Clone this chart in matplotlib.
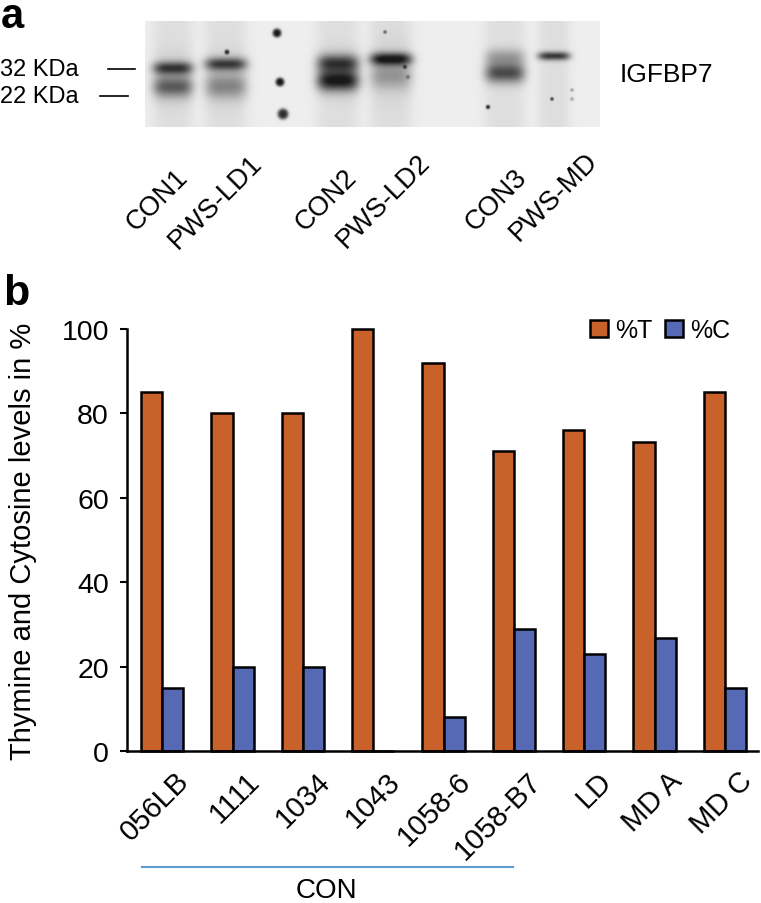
import numpy as np
import matplotlib
matplotlib.use('Agg')
import matplotlib.pyplot as plt
import matplotlib.transforms as mtransforms

plt.rcParams['font.family'] = ['Liberation Sans', 'DejaVu Sans']

# ---- panel b data ----
samples = ['056LB', '1111', '1034', '1043', '1058-6', '1058-B7', 'LD', 'MD A', 'MD C']
pct_T = [85, 80, 80, 100, 92, 71, 76, 73.3, 85]
pct_C = [15, 20, 20, 0, 8, 29, 23, 26.7, 15]

# ---- panel a (western blot) ----
lane_names = ['CON1', 'PWS-LD1', 'CON2', 'PWS-LD2', 'CON3', 'PWS-MD']
lane_x = [173, 226, 338, 391, 505, 554]
lane_halfwidth = [20, 21, 21, 21, 20, 16]
# bands per lane: (y, sigma, darkness)
lane_bands = [
    [(69, 4.5, 0.7), (88, 7, 0.5), (80, 16, 0.15)],
    [(65, 4.5, 0.7), (88, 8, 0.3), (80, 16, 0.15)],
    [(64, 6, 0.65), (82, 7, 0.8), (74, 14, 0.2)],
    [(60, 4.5, 0.9), (77, 9, 0.28), (70, 22, 0.08)],
    [(58, 6, 0.3), (74, 7, 0.7)],
    [(57, 3, 0.8)],
]
# marker / dust spots: (x, y, radius, darkness)
spots = [(277, 34, 4.5, 1.0), (280, 83, 4.5, 1.0), (283, 115, 5.5, 0.9),
         (227, 53, 2.5, 0.8), (385, 33, 1.8, 0.6), (488, 108, 2.2, 0.9),
         (552, 100, 1.8, 0.8), (572, 91, 1.8, 0.35), (572, 100, 1.8, 0.35),
         (405, 68, 2, 0.5), (408, 78, 2, 0.35)]

W, H = 761, 904
fig = plt.figure(figsize=(W / 100, H / 100), dpi=100)

# overlay axes in pixel coordinates for panel a and annotations
ov = fig.add_axes([0, 0, 1, 1])
ov.set_xlim(0, W)
ov.set_ylim(H, 0)
ov.axis('off')
ov.patch.set_alpha(0)

bx0, bx1, by0, by1 = 145, 600, 22, 128
xx, yy = np.meshgrid(np.arange(bx0, bx1) + 0.5, np.arange(by0, by1) + 0.5)
dark = np.zeros_like(xx)
for cx, hw, bands in zip(lane_x, lane_halfwidth, lane_bands):
    prof = np.exp(-np.abs((xx - cx) / hw) ** 4)
    col = 0.07 * np.ones_like(yy)
    for b_y, b_s, b_d in bands:
        col = col + b_d * np.exp(-0.5 * ((yy - b_y) / b_s) ** 2)
    dark += prof * col
for sx, sy, sr, sd in spots:
    dark += sd * np.exp(-(((xx - sx) ** 2 + (yy - sy) ** 2) / sr ** 2) ** 2)
img = 0.93 - 0.83 * np.clip(dark, 0, 1)
ov.imshow(img, cmap='gray', vmin=0, vmax=1, extent=(bx0, bx1, by1, by0),
          aspect='auto', interpolation='bicubic', zorder=1)

ov.text(1, 28, 'a', fontsize=30, fontweight='bold', va='baseline', ha='left')
ov.text(0, 70, '32 KDa', fontsize=17, va='center', ha='left')
ov.text(0, 97, '22 KDa', fontsize=17, va='center', ha='left')
ov.plot([108, 135], [70, 70], color='black', lw=1.2)
ov.plot([100, 128], [97, 97], color='black', lw=1.2)
ov.text(620, 75, 'IGFBP7', fontsize=19, va='center', ha='left')
lab_end_x = [175, 249, 344, 417, 514, 585]
lab_end_y = [165, 150, 165, 150, 165, 148]
for name, lx, ly in zip(lane_names, lab_end_x, lab_end_y):
    ov.text(lx, ly, name, fontsize=19.5, rotation=45, ha='right', va='top',
            rotation_mode='anchor')

ov.text(3, 305, 'b', fontsize=31, fontweight='bold', va='baseline', ha='left')
ov.plot([142, 513], [868, 868], color='#5B9BD5', lw=1.5)
ov.text(326, 904, 'CON', fontsize=20, ha='center', va='bottom')

# ---- bar chart ----
ax = fig.add_axes([127 / W, 1 - 752 / H, 631 / W, 422 / H])
x = np.arange(len(samples))
w = 0.3
bT = ax.bar(x - w / 2, pct_T, w, color='#C8612A', edgecolor='black', lw=1.8,
            label='%T', clip_on=False, zorder=3)
bC = ax.bar(x + w / 2, pct_C, w, color='#5569B4', edgecolor='black', lw=1.8,
            label='%C', clip_on=False, zorder=3)
ax.set_xlim(-0.5, 8.47)
ax.set_ylim(0, 100)
ax.set_yticks([0, 20, 40, 60, 80, 100])
for s in ['top', 'right']:
    ax.spines[s].set_visible(False)
for s in ['left', 'bottom']:
    ax.spines[s].set_linewidth(1.8)
    ax.spines[s].set_zorder(4)
ax.tick_params(axis='y', direction='out', length=5, width=1.5, labelsize=20.5, pad=8)
ax.tick_params(axis='x', length=0, labelsize=21, pad=11)
ax.set_xticks(x)
ax.set_xticklabels(samples, rotation=45, ha='right', va='top', rotation_mode='anchor')
off = mtransforms.ScaledTranslation(0.13, 0, fig.dpi_scale_trans)
for lab in ax.get_xticklabels():
    lab.set_transform(lab.get_transform() + off)
ax.set_ylabel('Thymine and Cytosine levels in %', fontsize=21, va='center')
ax.yaxis.set_label_coords(-0.165, 0.5)
ax.legend(loc='upper right', bbox_to_anchor=(0.956, 1.025), ncol=2, frameon=False,
          fontsize=18, handlelength=0.7, handleheight=0.7, handletextpad=0.3,
          columnspacing=0.5, borderaxespad=0, borderpad=0)

fig.savefig('out.png', dpi=100)
